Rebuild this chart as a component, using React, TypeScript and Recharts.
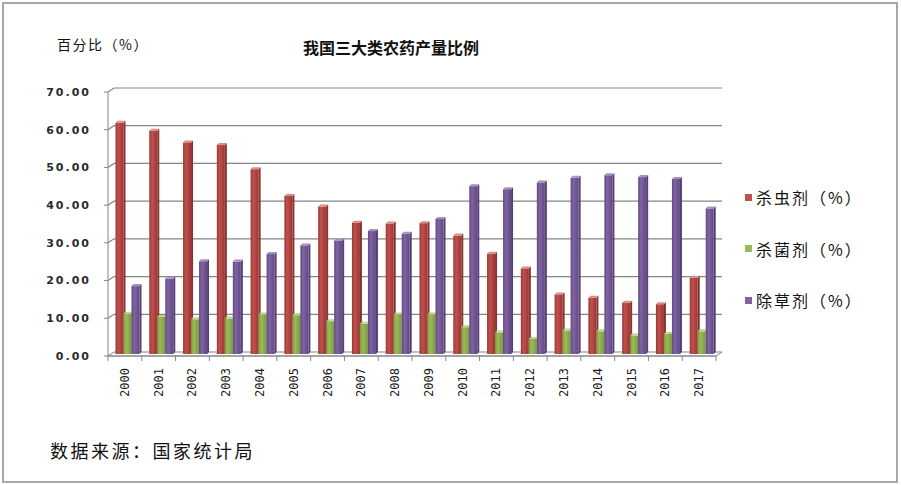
import React from "react";
import { BarChart, Bar, XAxis, YAxis, CartesianGrid } from "recharts";

// ─── Data ─────────────────────────────────────────────────────────────────────

const years = [
  "2000", "2001", "2002", "2003", "2004", "2005", "2006", "2007", "2008",
  "2009", "2010", "2011", "2012", "2013", "2014", "2015", "2016", "2017",
];
const insecticide = [61.3, 59.2, 56.1, 55.4, 49.0, 41.9, 39.1, 34.8, 34.6, 34.7, 31.4, 26.6, 22.7, 15.8, 14.9, 13.6, 13.2, 20.2];
const fungicide   = [10.7, 9.8, 9.2, 9.4, 10.5, 10.3, 8.7, 8.0, 10.5, 10.5, 7.1, 5.7, 4.0, 6.2, 6.0, 4.9, 5.3, 6.0];
const herbicide   = [18.0, 20.0, 24.6, 24.5, 26.5, 28.8, 30.1, 32.6, 31.9, 35.8, 44.5, 43.7, 45.5, 46.7, 47.4, 46.9, 46.4, 38.6];
const yTicks = [0, 10, 20, 30, 40, 50, 60, 70];

const SERIES = [
  { key: "insecticide", name: "杀虫剂（%）", color: "#C0504D", edge: "#9a3734", side: "#8a302d", cap: "#d98c8a" },
  { key: "fungicide",   name: "杀菌剂（%）", color: "#9BBB59", edge: "#7c9a40", side: "#6e8a37", cap: "#bcd48e" },
  { key: "herbicide",   name: "除草剂（%）", color: "#8064A2", edge: "#614883", side: "#553f74", cap: "#a690c2" },
] as const;

const data = years.map((year, i) => ({
  year,
  insecticide: insecticide[i],
  fungicide: fungicide[i],
  herbicide: herbicide[i],
}));

// ─── Layout ───────────────────────────────────────────────────────────────────

const W = 901;
const H = 485;
const PLOT = { left: 108, right: 716, top: 92, bottom: 356 };
const X_AXIS_H = 60;
const Y_AXIS_W = 100;
const DEPTH = { dx: 6, dy: -4 };
const BAND = (PLOT.right - PLOT.left) / years.length;
const GRID = "#858585";
const CJK = "'Noto Sans CJK SC', 'Noto Sans', sans-serif";

// ─── Pieces ───────────────────────────────────────────────────────────────────

// back-wall grid lines with a short diagonal, floor for the 0 line
const gridLine = (p: any) => {
  const { x1, x2, y1, index } = p;
  const { dx, dy } = DEPTH;
  if (Math.abs(y1 - PLOT.bottom) < 0.5) {
    return (
      <polygon
        key={`g${index}`}
        points={`${x1},${y1} ${x2},${y1} ${x2 + dx},${y1 + dy} ${x1 + dx},${y1 + dy}`}
        fill="#ffffff"
        stroke={GRID}
        strokeWidth={1}
      />
    );
  }
  return (
    <polyline
      key={`g${index}`}
      points={`${x1},${y1} ${x1 + dx},${y1 + dy} ${x2 + dx},${y1 + dy}`}
      fill="none"
      stroke={GRID}
      strokeWidth={1.2}
    />
  );
};

const makeBar3D = (idx: number) => (props: any) => {
  const { x, y, width, height } = props;
  if (!height || height <= 0) return <g />;
  const s = SERIES[idx];
  const fx = x + 2.5;
  const fy = y - 2;
  const d = 2;
  return (
    <g>
      <polygon
        points={`${fx + width},${fy} ${fx + width + d},${fy - d} ${fx + width + d},${fy + height - d} ${fx + width},${fy + height}`}
        fill={s.side}
      />
      <rect x={fx} y={fy} width={width} height={height} fill={`url(#bar-${s.key})`} />
      <polygon
        points={`${fx},${fy} ${fx + d},${fy - d} ${fx + width + d},${fy - d} ${fx + width},${fy}`}
        fill={s.cap}
      />
    </g>
  );
};

const XTick = (p: any) => {
  const { x, y, payload, index } = p;
  const left = x - BAND / 2;
  const ty = y + 12;
  return (
    <g>
      <line x1={left} y1={y} x2={left} y2={y + 5} stroke={GRID} />
      {index === years.length - 1 && (
        <line x1={left + BAND} y1={y} x2={left + BAND} y2={y + 5} stroke={GRID} />
      )}
      <text
        x={x}
        y={ty}
        transform={`rotate(-90, ${x}, ${ty})`}
        textAnchor="end"
        dominantBaseline="central"
        fontSize={12}
        fontFamily="'DejaVu Sans Mono', monospace"
        fill="#1a1a1a"
      >
        {payload.value}
      </text>
    </g>
  );
};

// ─── Component ────────────────────────────────────────────────────────────────

export default function App() {
  return (
    <div style={s.page}>
      <div style={s.frame} />

      <div style={s.yTitle}>百分比（%）</div>
      <div style={s.title}>我国三大类农药产量比例</div>
      <div style={s.source}>数据来源：国家统计局</div>

      <div style={s.legend}>
        {SERIES.map(({ key, name, color }) => (
          <div key={key} style={s.legendItem}>
            <span style={{ ...s.legendDot, background: color }} />
            <span>{name}</span>
          </div>
        ))}
      </div>

      <div style={{ position: "absolute", left: 0, top: 0 }}>
        <BarChart
          width={W}
          height={H}
          data={data}
          margin={{
            top: PLOT.top,
            right: W - PLOT.right,
            bottom: H - PLOT.bottom - X_AXIS_H,
            left: PLOT.left - Y_AXIS_W,
          }}
          barGap={0}
          barSize={8}
        >
          <defs>
            {SERIES.map(({ key, color, edge }) => (
              <linearGradient key={key} id={`bar-${key}`} x1="0" y1="0" x2="1" y2="0">
                <stop offset="0%" stopColor={edge} />
                <stop offset="35%" stopColor={color} />
                <stop offset="100%" stopColor={edge} />
              </linearGradient>
            ))}
          </defs>

          <CartesianGrid vertical={false} horizontal={gridLine} />

          <XAxis
            dataKey="year"
            height={X_AXIS_H}
            interval={0}
            tickSize={0}
            tickMargin={0}
            tickLine={false}
            axisLine={{ stroke: GRID }}
            tick={<XTick />}
          />
          <YAxis
            width={Y_AXIS_W}
            domain={[0, 70]}
            ticks={yTicks}
            tickFormatter={(v: number) => v.toFixed(2)}
            tickSize={4}
            tickMargin={13}
            tickLine={{ stroke: GRID }}
            axisLine={{ stroke: GRID }}
            tick={{
              fontSize: 11,
              fontFamily: "'DejaVu Sans', sans-serif",
              fontWeight: "bold",
              fill: "#2a2a2a",
              letterSpacing: 2,
            }}
          />

          {SERIES.map(({ key, name, color }, i) => (
            <Bar
              key={key}
              dataKey={key}
              name={name}
              fill={color}
              shape={makeBar3D(i)}
              isAnimationActive={false}
            />
          ))}
        </BarChart>
      </div>
    </div>
  );
}

// ─── Styles ───────────────────────────────────────────────────────────────────

const s: Record<string, React.CSSProperties> = {
  page:       { position: "absolute", left: 0, top: 0, width: W, height: H, background: "#fff", overflow: "hidden" },
  frame:      { position: "absolute", left: 2, top: 2, width: 892, height: 477, border: "2px solid #a8a8a8" },
  yTitle:     { position: "absolute", left: 57, top: 35, fontSize: 14, letterSpacing: 1.5, fontFamily: CJK, color: "#111", lineHeight: "18px" },
  title:      { position: "absolute", left: 303, top: 37, fontSize: 16, fontWeight: 700, fontFamily: CJK, color: "#111", lineHeight: "20px" },
  source:     { position: "absolute", left: 50, top: 438, fontSize: 18, letterSpacing: 2.5, fontFamily: CJK, color: "#111", lineHeight: "24px" },
  legend:     { position: "absolute", left: 745, top: 185, fontFamily: CJK, fontSize: 16, letterSpacing: 2, color: "#111", zIndex: 2 },
  legendItem: { display: "flex", alignItems: "center", height: 24, marginBottom: 27.5 },
  legendDot:  { width: 7, height: 7, marginRight: 4, display: "inline-block" },
};
